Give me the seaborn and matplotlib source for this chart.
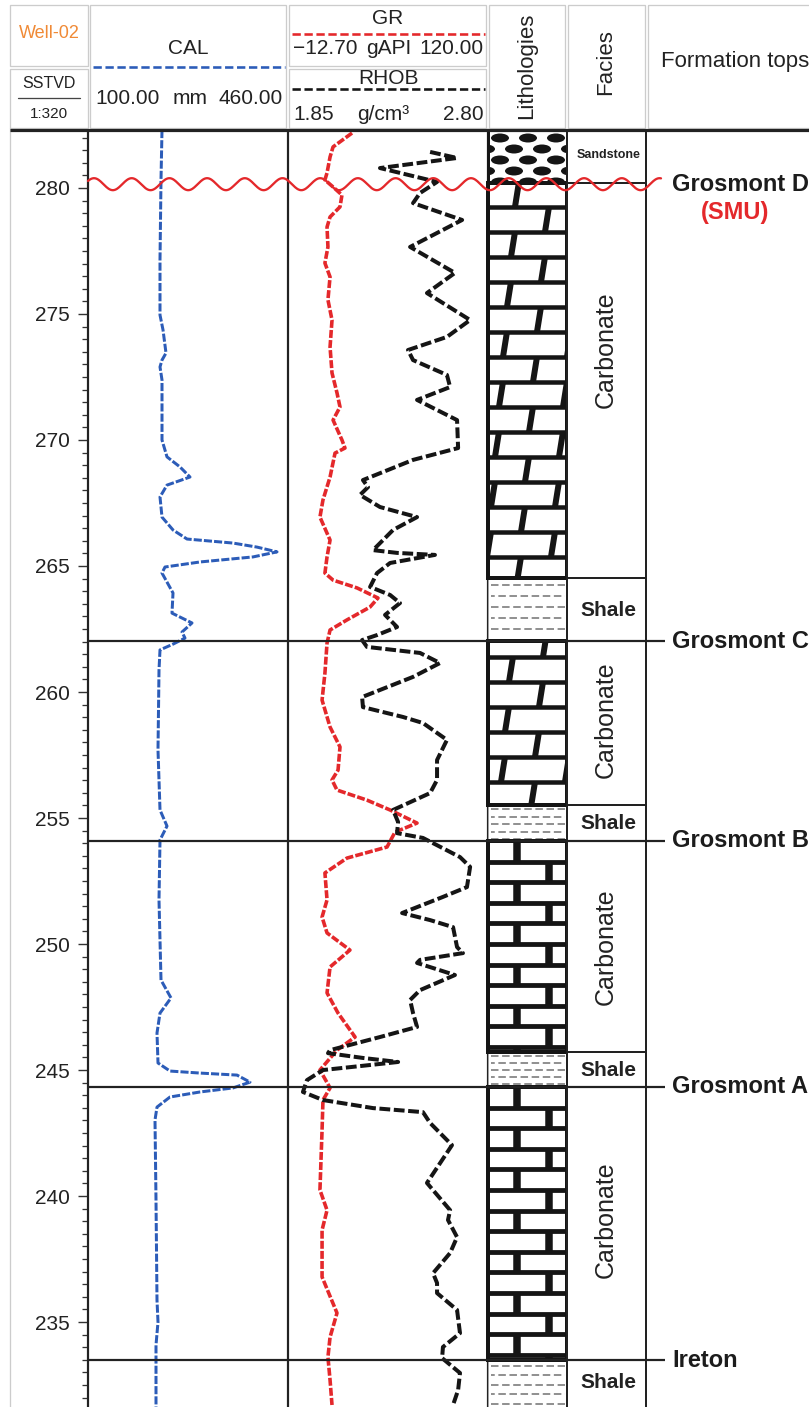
import numpy as np
import pandas as pd
import matplotlib
matplotlib.use("Agg")
import matplotlib.pyplot as plt
from matplotlib.patches import Rectangle, Ellipse
from matplotlib.ticker import MultipleLocator, FormatStrFormatter
import seaborn as sns

sns.set_theme(style="white")
plt.rcParams["font.family"] = ["Liberation Sans", "DejaVu Sans"]
plt.rcParams["text.color"] = "#222222"

# ---------------- log curves (depth = SSTVD, m) ----------------
cal_depth = [282.30, 280.32, 277.14, 274.96, 274.37, 273.45, 273.17, 272.90, 272.38, 270.00,
             269.33, 268.93, 268.53, 268.21, 267.74, 266.94, 266.43, 266.07, 265.91, 265.75,
             265.56, 265.36, 265.16, 264.96, 264.72, 263.93, 263.13, 262.74, 262.38, 262.14,
             261.90, 261.67, 260.87, 257.70, 255.32, 254.68, 254.13, 251.75, 248.57, 247.86,
             247.26, 246.47, 245.28, 244.96, 244.88, 244.80, 244.52, 244.29, 244.13, 243.93,
             243.53, 243.02, 239.84, 235.87, 235.00, 234.09, 231.60]
cal_mm = [233.2, 231.4, 229.6, 229.6, 235.0, 240.4, 233.2, 229.6, 233.2, 233.2,
          242.2, 265.6, 283.6, 242.2, 229.6, 233.2, 253.0, 278.2, 361.0, 404.2,
          440.2, 397.0, 301.6, 238.6, 233.2, 253.0, 251.2, 287.2, 269.2, 274.6,
          253.0, 229.6, 227.8, 226.0, 229.6, 242.2, 229.6, 227.8, 231.4, 249.4,
          229.6, 224.2, 226.0, 247.6, 301.6, 368.2, 391.6, 361.0, 301.6, 247.6,
          224.2, 220.6, 222.4, 224.2, 226.0, 222.4, 222.4]

gr_depth = [282.18, 281.63, 281.23, 280.60, 280.32, 280.04, 279.72, 279.25, 278.85, 278.45,
            277.66, 277.02, 276.47, 275.56, 274.76, 273.69, 272.66, 271.87, 271.31, 270.79,
            270.00, 269.68, 269.48, 268.53, 267.62, 266.94, 266.03, 265.36, 264.72, 264.44,
            264.13, 263.73, 263.37, 262.86, 262.46, 261.94, 260.75, 259.68, 258.61, 257.82,
            256.90, 256.51, 256.11, 255.71, 255.32, 254.80, 254.44, 253.85, 253.41, 252.82,
            251.75, 251.07, 250.44, 249.76, 249.09, 248.06, 247.26, 246.31, 245.79, 245.00,
            244.29, 243.81, 242.62, 240.24, 239.44, 238.65, 236.79, 235.36, 234.40, 233.61,
            232.70, 231.71]
gr_api = [29.8, 17.2, 15.2, 13.2, 11.8, 17.2, 23.1, 21.8, 15.2, 13.2,
          13.8, 11.8, 15.2, 13.8, 16.5, 15.2, 16.5, 19.8, 21.8, 17.2,
          23.1, 25.1, 18.5, 15.2, 10.5, 8.5, 15.2, 13.2, 11.8, 17.2,
          33.1, 47.0, 41.7, 26.4, 15.2, 13.2, 11.8, 9.9, 15.2, 21.8,
          20.5, 16.5, 19.8, 39.7, 55.0, 72.9, 58.3, 53.0, 26.4, 11.8,
          13.2, 9.9, 13.2, 28.4, 15.2, 13.2, 20.5, 31.8, 19.8, 8.5,
          15.2, 10.5, 9.9, 8.5, 13.2, 9.9, 9.9, 19.8, 15.2, 13.8,
          15.2, 16.5]

rhob_depth = [281.43, 281.19, 280.79, 280.24, 279.80, 279.40, 278.73, 277.66, 276.63, 275.83,
              274.76, 274.09, 273.57, 273.17, 272.58, 272.10, 271.59, 270.79, 269.68, 269.21,
              268.41, 268.13, 267.82, 267.34, 266.94, 266.43, 265.63, 265.52, 265.44, 265.12,
              264.72, 264.17, 263.85, 263.53, 263.06, 262.58, 262.26, 262.06, 261.79, 261.55,
              261.15, 260.60, 259.80, 259.40, 259.01, 258.77, 258.10, 257.30, 256.51, 255.99,
              255.32, 254.84, 254.40, 254.21, 253.45, 253.06, 252.26, 251.87, 251.23, 250.95,
              250.67, 249.88, 249.64, 249.37, 249.25, 248.77, 248.17, 247.78, 247.26, 246.71,
              246.31, 245.79, 245.67, 245.48, 245.32, 245.20, 245.00, 244.60, 244.13, 243.81,
              243.49, 243.33, 242.90, 242.02, 240.52, 239.44, 239.05, 238.37, 237.74, 236.94,
              236.55, 236.15, 235.48, 234.56, 234.01, 233.57, 232.98, 232.30, 231.71]
rhob_gcc = [2.525, 2.653, 2.287, 2.558, 2.477, 2.444, 2.677, 2.430, 2.643, 2.510,
            2.715, 2.605, 2.420, 2.444, 2.605, 2.620, 2.463, 2.653, 2.658, 2.444,
            2.206, 2.230, 2.192, 2.287, 2.463, 2.349, 2.254, 2.368, 2.548, 2.335,
            2.273, 2.240, 2.335, 2.382, 2.311, 2.368, 2.273, 2.202, 2.225, 2.477,
            2.572, 2.444, 2.202, 2.206, 2.396, 2.491, 2.605, 2.558, 2.558, 2.525,
            2.349, 2.373, 2.368, 2.491, 2.667, 2.715, 2.700, 2.586, 2.392, 2.525,
            2.634, 2.653, 2.681, 2.477, 2.463, 2.643, 2.477, 2.430, 2.444, 2.463,
            2.287, 2.050, 2.040, 2.206, 2.373, 2.240, 2.016, 1.940, 1.921, 2.016,
            2.254, 2.491, 2.525, 2.629, 2.510, 2.620, 2.610, 2.653, 2.620, 2.539,
            2.558, 2.558, 2.653, 2.667, 2.586, 2.582, 2.667, 2.658, 2.634]

# track scales
cal_range = (100.0, 460.0)
gr_range = (-12.70, 120.00)
rhob_range = (1.85, 2.80)

# formation tops
tops_name = ["Grosmont D", "Grosmont C", "Grosmont B", "Grosmont A", "Ireton"]
tops_depth = [280.15, 262.02, 254.09, 244.33, 233.49]

# lithology / facies intervals
unit_top = [282.30, 280.20, 264.52, 262.02, 255.52, 254.09, 245.71, 244.33, 233.49]
unit_base = [280.20, 264.52, 262.02, 255.52, 254.09, 245.71, 244.33, 233.49, 231.00]
unit_lith = ["sandstone", "dolostone", "shale", "dolostone", "shale",
             "limestone", "shale", "limestone", "shale"]
facies_name = ["Sandstone", "Carbonate", "Shale", "Carbonate", "Shale",
               "Carbonate", "Shale", "Carbonate", "Shale"]
facies_label_depth = [281.31, 273.57, 263.25, 258.89, 254.80, 249.88, 245.00, 239.05, 232.62]

# ---------------- layout ----------------
FIG_W, FIG_H, DPI = 809, 1407, 100
TRACK_TOP_PX = 130
DEPTH_TOP, DEPTH_BASE = 282.30, 231.63
PX_PER_M = (FIG_H - TRACK_TOP_PX) / (DEPTH_TOP - DEPTH_BASE)
PT = 72.0 / DPI          # points per pixel
INK = "#151515"
RED = "#e4282b"
BLUE = "#2c5cb8"


def box(x0, x1, y0=TRACK_TOP_PX, y1=FIG_H):
    return [x0 / FIG_W, 1 - y1 / FIG_H, (x1 - x0) / FIG_W, (y1 - y0) / FIG_H]


def px_m(p):
    return p / PX_PER_M


fig = plt.figure(figsize=(FIG_W / DPI, FIG_H / DPI), dpi=DPI)
fig.patch.set_facecolor("white")

ax_cal = fig.add_axes(box(88, 288))
ax_gr = fig.add_axes(box(288, 488), sharey=ax_cal)
ax_rhob = ax_gr.twiny()
ax_lith = fig.add_axes(box(488, 567), sharey=ax_cal)
ax_fac = fig.add_axes(box(567, 646), sharey=ax_cal)
ax_tops = fig.add_axes(box(646, 809), sharey=ax_cal)

# ---------------- curves ----------------
cal_df = pd.DataFrame({"depth": cal_depth, "CAL": cal_mm})
gr_df = pd.DataFrame({"depth": gr_depth, "GR": gr_api})
rhob_df = pd.DataFrame({"depth": rhob_depth, "RHOB": rhob_gcc})

sns.lineplot(data=cal_df, x="CAL", y="depth", orient="y", sort=False, estimator=None,
             ax=ax_cal, color=BLUE, linewidth=3 * PT, linestyle=(0, (2.7, 0.7)), zorder=3)
sns.lineplot(data=gr_df, x="GR", y="depth", orient="y", sort=False, estimator=None,
             ax=ax_gr, color=RED, linewidth=3.6 * PT, linestyle=(0, (2.2, 0.6)), zorder=3)
sns.lineplot(data=rhob_df, x="RHOB", y="depth", orient="y", sort=False, estimator=None,
             ax=ax_rhob, color=INK, linewidth=4 * PT, linestyle=(0, (2.7, 0.9)), zorder=3)

ax_cal.set_xlim(*cal_range)
ax_gr.set_xlim(*gr_range)
ax_rhob.set_xlim(*rhob_range)
for a in (ax_lith, ax_fac, ax_tops):
    a.set_xlim(0, 1)

for a in (ax_cal, ax_gr, ax_rhob, ax_lith, ax_fac, ax_tops):
    a.set_xlabel("")
    a.set_ylabel("")
    a.tick_params(axis="x", which="both", bottom=False, top=False,
                  labelbottom=False, labeltop=False)
    for s in a.spines.values():
        s.set_visible(False)
    a.patch.set_alpha(0)
for a in (ax_gr, ax_lith, ax_fac, ax_tops):
    a.tick_params(axis="y", which="both", left=False, right=False,
                  labelleft=False, labelright=False)
ax_rhob.tick_params(axis="y", which="both", left=False, right=False,
                    labelleft=False, labelright=False)

for a, sides in ((ax_cal, ("left", "right")), (ax_gr, ("right",))):
    for side in sides:
        a.spines[side].set_visible(True)
        a.spines[side].set_color("#222222")
        a.spines[side].set_linewidth(2.2 * PT)

# depth axis
ax_cal.yaxis.set_major_locator(MultipleLocator(5))
ax_cal.yaxis.set_minor_locator(MultipleLocator(0.5))
ax_cal.yaxis.set_major_formatter(FormatStrFormatter("%d"))
ax_cal.tick_params(axis="y", which="major", left=True, direction="out", length=10 * PT,
                   width=1.4 * PT, color="#333333", labelsize=15, pad=8 * PT,
                   labelcolor="#222222")
ax_cal.tick_params(axis="y", which="minor", left=True, direction="out", length=6 * PT,
                   width=1.3 * PT, color="#333333")

# ---------------- lithology column ----------------
LITH_PX = 79.0


def px_f(p):
    return p / LITH_PX


def base_frame(ax, top, base):
    r = Rectangle((0, base), 1, top - base, fc="white", ec="none", zorder=1)
    ax.add_patch(r)
    return r


def clipped_line(ax, xs, ys, clip, **kw):
    ln = ax.plot(xs, ys, solid_capstyle="butt", zorder=2, **kw)[0]
    ln.set_clip_path(clip)
    return ln


def draw_sandstone(ax, top, base):
    clip = base_frame(ax, top, base)
    ys = np.arange(top - px_m(8), base - px_m(6), -px_m(11))
    for r, yc in enumerate(ys):
        xs = (12, 40, 68) if r % 2 == 0 else (-2, 26, 54, 82)
        for xc in xs:
            e = Ellipse((px_f(xc), yc), px_f(18), px_m(9), fc=INK, ec="none", zorder=2)
            ax.add_patch(e)
            e.set_clip_path(clip)
    ax.add_patch(Rectangle((0, base), 1, top - base, fill=False, ec=INK,
                           lw=3 * PT, zorder=4, clip_on=False))


DOLO_ANCHOR = 279.25


def draw_dolostone(ax, top, base):
    clip = base_frame(ax, top, base)
    step = px_m(25)
    k0 = int(np.floor((DOLO_ANCHOR - top) / step)) - 1
    k1 = int(np.ceil((DOLO_ANCHOR - base) / step)) + 1
    for k in range(k0, k1 + 1):
        y_low = DOLO_ANCHOR - k * step
        y_up = y_low + step
        clipped_line(ax, [0, 1], [y_low, y_low], clip, color=INK, lw=4.5 * PT)
        p = (27 + 30 * k) % 64
        for xj in (p - 64, p, p + 64):
            if -6 <= xj <= 85:
                clipped_line(ax, [px_f(xj), px_f(xj + 4)], [y_low, y_up], clip,
                             color=INK, lw=6 * PT)
    ax.add_patch(Rectangle((0, base), 1, top - base, fill=False, ec=INK,
                           lw=4 * PT, zorder=4, clip_on=False))


def draw_limestone(ax, top, base):
    clip = base_frame(ax, top, base)
    step = px_m(20.6)
    n = int(np.ceil((top - base) / step)) + 1
    for k in range(n):
        y_up = top - k * step
        y_low = y_up - step
        if k > 0:
            clipped_line(ax, [0, 1], [y_up, y_up], clip, color=INK, lw=4.8 * PT)
        xj = 0.373 if k % 2 == 0 else 0.766
        clipped_line(ax, [xj, xj], [y_low, y_up], clip, color=INK, lw=7.5 * PT)
    ax.add_patch(Rectangle((0, base), 1, top - base, fill=False, ec=INK,
                           lw=4 * PT, zorder=4, clip_on=False))


shale_spacing_px = [11.0, 7.5, 7.0, 9.5]


def draw_shale(ax, top, base, spacing):
    clip = base_frame(ax, top, base)
    sp = px_m(spacing)
    ys = np.arange(top - sp * 0.6, base, -sp)
    for i, y in enumerate(ys):
        clipped_line(ax, [0.04, 0.97], [y, y], clip, color="#6f6f6f", lw=1.5 * PT,
                     linestyle=(2.5 * (i % 2), (5.0, 2.4)))
    ax.add_patch(Rectangle((0, base), 1, top - base, fill=False, ec="#a0a0a0",
                           lw=1.0 * PT, zorder=3, clip_on=False))


shale_i = 0
for top, base, kind in zip(unit_top, unit_base, unit_lith):
    if kind == "sandstone":
        draw_sandstone(ax_lith, top, base)
    elif kind == "dolostone":
        draw_dolostone(ax_lith, top, base)
    elif kind == "limestone":
        draw_limestone(ax_lith, top, base)
    else:
        draw_shale(ax_lith, top, base, shale_spacing_px[shale_i])
        shale_i += 1

# ---------------- facies column ----------------
for top, base in zip(unit_top, unit_base):
    ax_fac.add_patch(Rectangle((0, base), 1, top - base, fc="white", ec="#222222",
                               lw=2 * PT, zorder=2, clip_on=False))
for name, d in zip(facies_name, facies_label_depth):
    if name == "Carbonate":
        ax_fac.text(0.49, d, name, rotation=90, ha="center", va="center",
                    fontsize=18, color="#222222", zorder=5)
    elif name == "Shale":
        ax_fac.text(0.53, d, name, ha="center", va="center", fontsize=15,
                    fontweight="bold", color="#222222", zorder=5)
    else:
        ax_fac.text(0.53, d, name, ha="center", va="center", fontsize=9,
                    fontweight="bold", color="#222222", zorder=5)

ax_cal.set_ylim(DEPTH_BASE, DEPTH_TOP)

# ---------------- header (pixel frame) ----------------
hdr = fig.add_axes([0, 0, 1, 1])
hdr.set_xlim(0, FIG_W)
hdr.set_ylim(FIG_H, 0)
hdr.axis("off")
hdr.patch.set_visible(False)
hdr.set_zorder(4)

cells = [(10, 5, 88, 66), (10, 69, 88, 128), (90, 5, 286, 128), (289, 5, 486, 66),
         (289, 69, 486, 128), (489, 5, 565, 128), (568, 5, 645, 128), (648, 5, 830, 128)]
for x0, y0, x1, y1 in cells:
    hdr.add_patch(Rectangle((x0, y0), x1 - x0, y1 - y0, fill=False, ec="#cccccc", lw=1.3 * PT))
hdr.plot([10, 10], [128, FIG_H], color="#cccccc", lw=1.3 * PT)

hdr.text(49, 33, "Well-02", color="#f08a36", fontsize=13, ha="center", va="center")
hdr.text(49, 84, "SSTVD", fontsize=11.5, ha="center", va="center")
hdr.plot([18, 80], [98, 98], color="#444444", lw=1.3 * PT)
hdr.text(49, 114, "1:320", fontsize=11, ha="center", va="center")

hdr.text(188, 48, "CAL", fontsize=15, ha="center", va="center")
hdr.plot([93, 285], [67, 67], color=BLUE, lw=2.6 * PT, linestyle=(0, (3.2, 1.4)))
hdr.text(95, 98, "100.00", fontsize=15, ha="left", va="center")
hdr.text(190, 98, "mm", fontsize=15, ha="center", va="center")
hdr.text(283, 98, "460.00", fontsize=15, ha="right", va="center")

hdr.text(388, 19, "GR", fontsize=15, ha="center", va="center")
hdr.plot([292, 485], [34, 34], color=RED, lw=2.6 * PT, linestyle=(0, (3.2, 1.4)))
hdr.text(293, 48, "\u221212.70", fontsize=15, ha="left", va="center")
hdr.text(389, 48, "gAPI", fontsize=15, ha="center", va="center")
hdr.text(484, 48, "120.00", fontsize=15, ha="right", va="center")

hdr.text(389, 79, "RHOB", fontsize=15, ha="center", va="center")
hdr.plot([292, 485], [89, 89], color=INK, lw=2.6 * PT, linestyle=(0, (3.2, 1.4)))
hdr.text(293, 114, "1.85", fontsize=15, ha="left", va="center")
hdr.text(383, 114, "g/cm\u00b3", fontsize=15, ha="center", va="center")
hdr.text(484, 114, "2.80", fontsize=15, ha="right", va="center")

hdr.text(527, 66, "Lithologies", fontsize=16, rotation=90, ha="center", va="center")
hdr.text(606, 62, "Facies", fontsize=16, rotation=90, ha="center", va="center")
hdr.text(661, 62, "Formation tops", fontsize=16, ha="left", va="center")

# ---------------- formation tops overlay ----------------
ov = fig.add_axes(box(0, FIG_W), sharey=ax_cal)
ov.set_xlim(0, FIG_W)
ov.axis("off")
ov.patch.set_visible(False)
ov.set_zorder(5)

ov.plot([10, FIG_W], [DEPTH_TOP, DEPTH_TOP], color="#222222", lw=3.2 * PT,
        clip_on=False, solid_capstyle="butt")
ov.hlines(tops_depth[1:], 88, 665, color="#222222", lw=2.2 * PT)

wave_x = np.linspace(88, 661, 900)
wave_y = tops_depth[0] + px_m(6) * np.cos(2 * np.pi * (wave_x - 94) / 37.7)
ov.plot(wave_x, wave_y, color=RED, lw=2.3 * PT)

for name, d in zip(tops_name, tops_depth):
    ov.text(672, d, name, fontsize=17, fontweight="bold", ha="left", va="center",
            color="#1c1c1c")
ov.text(735, tops_depth[0] - px_m(28), "(SMU)", fontsize=17, fontweight="bold",
        ha="center", va="center", color=RED)

ax_cal.set_ylim(DEPTH_BASE, DEPTH_TOP)

fig.savefig("out.png", dpi=DPI)
